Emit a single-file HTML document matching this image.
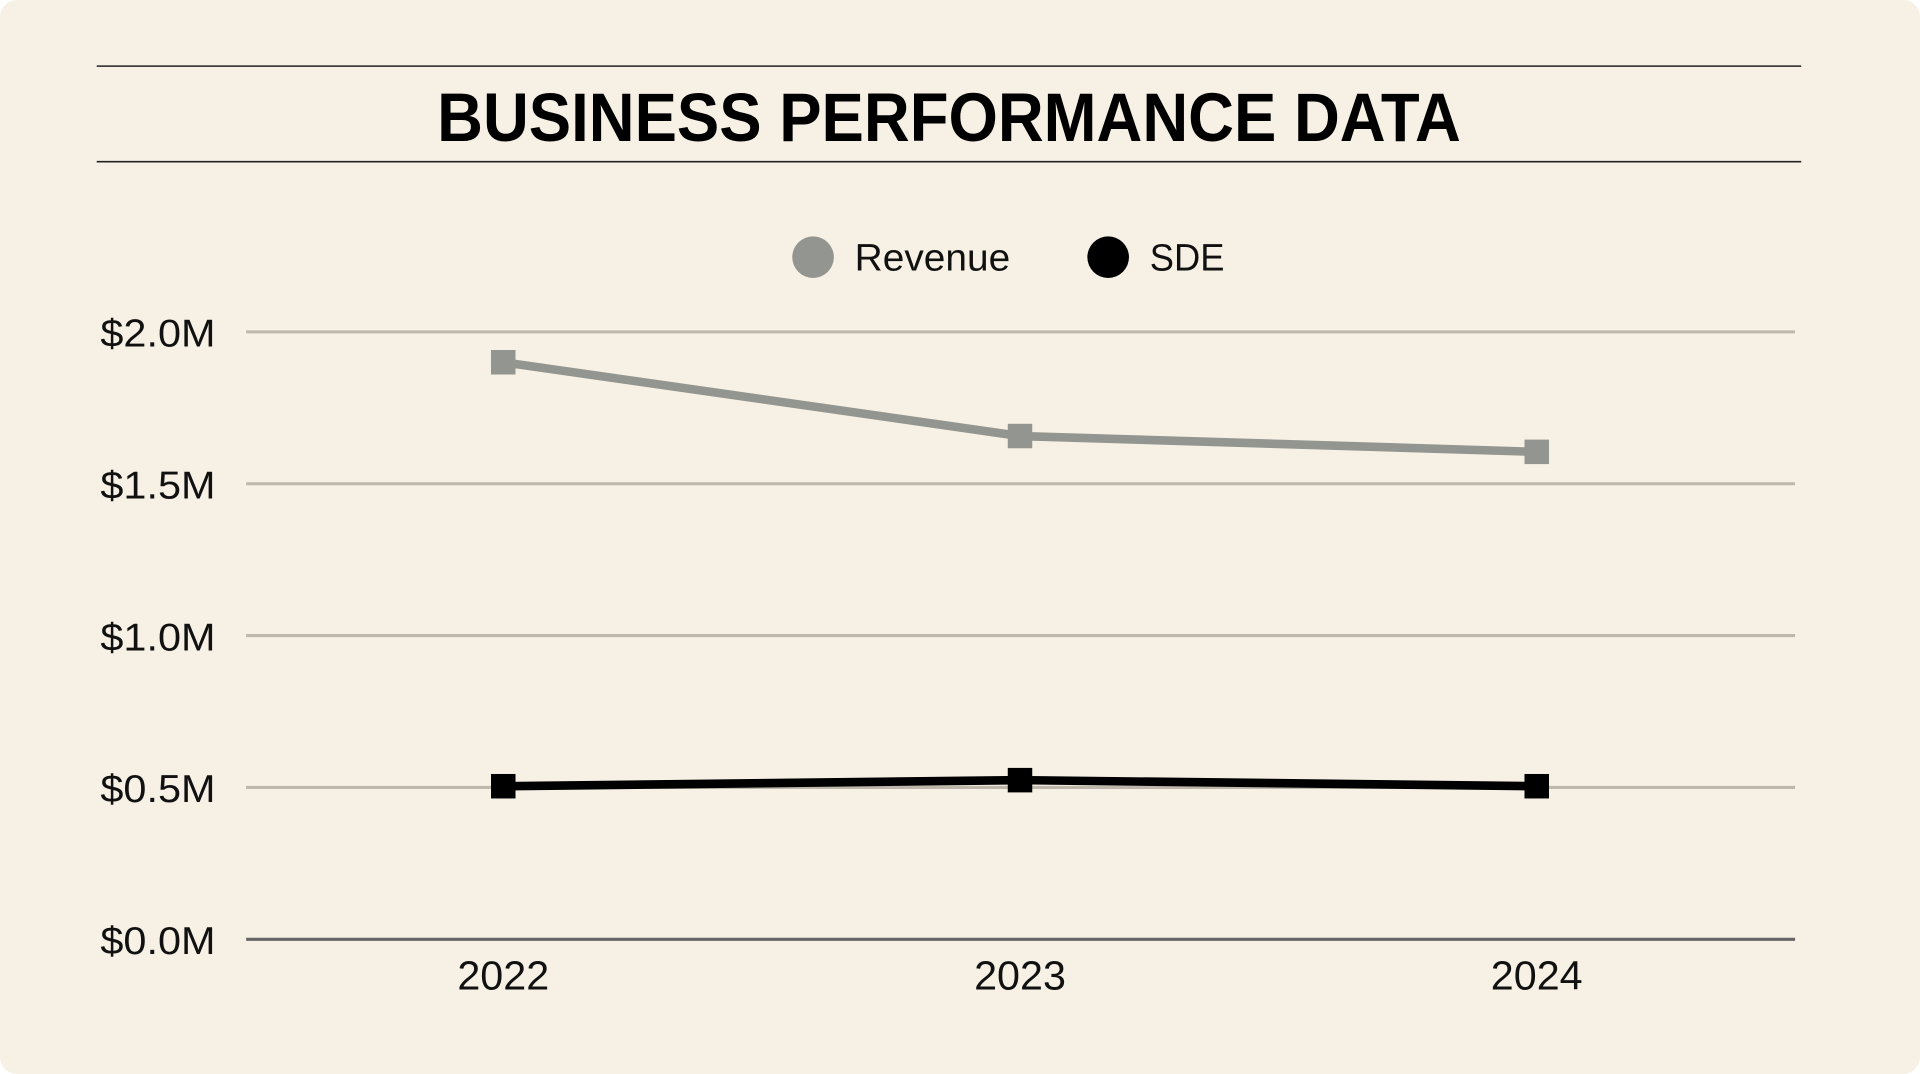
<!DOCTYPE html>
<html><head><meta charset="utf-8"><style>
html,body{margin:0;padding:0;background:#fff;width:1920px;height:1074px;overflow:hidden}
svg{display:block}
text{font-family:"Liberation Sans",Arial,sans-serif}
</style></head><body>
<svg id="chart" width="1920" height="1074" viewBox="0 0 1568 877" preserveAspectRatio="none">
<rect x="0" y="0" width="1568" height="877" rx="14" fill="#f7f1e5"/>
<line x1="79" y1="54" x2="1471" y2="54" stroke="#222" stroke-width="1.3"/>
<line x1="79" y1="132" x2="1471" y2="132" stroke="#222" stroke-width="1.3"/>
<text x="357" y="115" textLength="836" lengthAdjust="spacingAndGlyphs" font-size="56" font-weight="bold" fill="#000">BUSINESS PERFORMANCE DATA</text>
<g>
<g><circle cx="664" cy="210" r="17" fill="#929590"/><text x="698" y="221" font-size="31" textLength="127" lengthAdjust="spacingAndGlyphs" fill="#111">Revenue</text></g>
<g><circle cx="905" cy="210" r="17" fill="#000"/><text x="939" y="221" font-size="31" textLength="61" lengthAdjust="spacingAndGlyphs" fill="#111">SDE</text></g>
</g>
<g id="grid"></g><g id="ylabels"></g><g id="xlabels"></g><g id="series"></g>
</svg>
<script>
const categories=["2022","2023","2024"];
const revenue=[1.90,1.657,1.605];
const sde=[0.504,0.524,0.504];
const yTicks=[0,0.5,1.0,1.5,2.0];
const yTickLabels=["$0.0M","$0.5M","$1.0M","$1.5M","$2.0M"];
const NS="http://www.w3.org/2000/svg";
const y=v=>767-v/2*496;
const x=i=>411+i*422;
function mk(tag,attrs,parent){const e=document.createElementNS(NS,tag);for(const k in attrs)e.setAttribute(k,attrs[k]);document.getElementById(parent).appendChild(e);return e;}
yTicks.forEach((t,i)=>{
 const l=mk('line',{x1:201,x2:1466,y1:y(t),y2:y(t),stroke:t===0?'#666':'#bdb8ab','stroke-width':2.5},'grid');
 
 
 const tx=mk('text',{x:176,y:y(t)+12,'text-anchor':'end','font-size':32,textLength:94,lengthAdjust:'spacingAndGlyphs',fill:'#111'},'ylabels');
 tx.textContent=yTickLabels[i];
 
 
});
categories.forEach((c,i)=>{
 const tx=mk('text',{x:x(i),y:808,'text-anchor':'middle','font-size':33,textLength:75,lengthAdjust:'spacingAndGlyphs',fill:'#111'},'xlabels');
 tx.textContent=c;
 
 
});
function series(vals,color,name){
 const p=mk('polyline',{points:vals.map((v,i)=>x(i)+','+y(v)).join(' '),fill:'none',stroke:color,'stroke-width':7,'stroke-linejoin':'round'},'series');
 
 
 vals.forEach((v,i)=>{
  const r=mk('rect',{x:x(i)-10,y:y(v)-10,width:20,height:20,fill:color},'series');
  
  
 });
}
series(revenue,'#929590','revenue');
series(sde,'#000','sde');
</script>
</body></html>
